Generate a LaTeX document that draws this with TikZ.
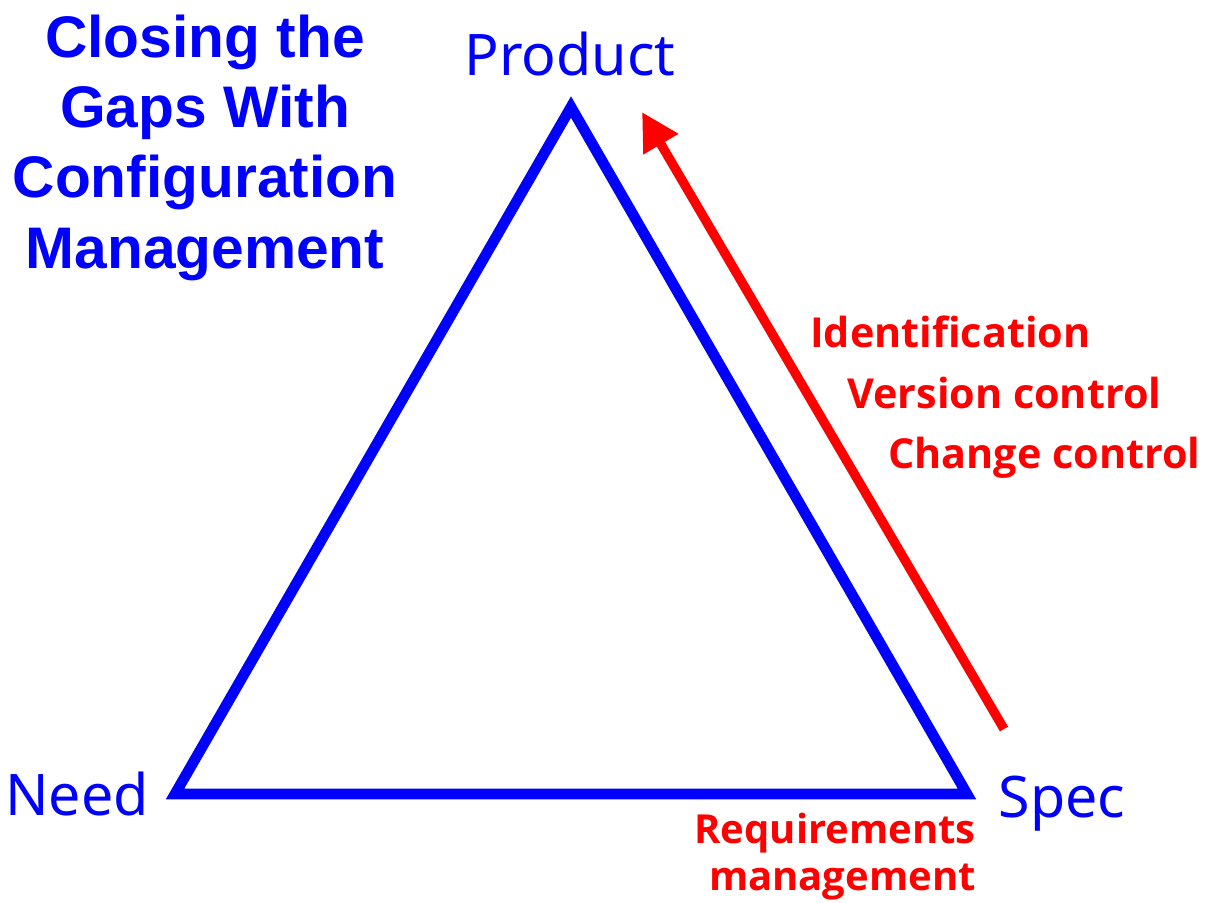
\documentclass[tikz,border=0pt]{standalone}
\usepackage{fontspec}
\setmainfont{Noto Sans}
\newfontfamily\titlefont{Liberation Sans}
\newfontfamily\labelfont{Open Sans}
\usetikzlibrary{arrows.meta}
\definecolor{cmblue}{RGB}{0,0,255}
\definecolor{cmred}{RGB}{255,0,0}
\begin{document}
\begin{tikzpicture}[x=0.75pt,y=-0.75pt,
  titleline/.style={text=cmblue,font=\titlefont\bfseries\fontsize{44}{52}\selectfont,anchor=base,inner sep=0pt},
  vertex/.style={text=cmblue,font=\fontsize{43}{50}\selectfont,anchor=base,inner sep=0pt},
  cmlabel/.style={text=cmred,font=\labelfont\bfseries\fontsize{30}{36}\selectfont,inner sep=0pt},
  cmlabelbig/.style={cmlabel,font=\labelfont\bfseries\fontsize{31}{37}\selectfont},
  side/.style={draw=cmblue,line width=8pt,line join=miter},
  cmarrow/.style={draw=cmred,line width=7pt,-{Triangle[length=28pt,width=28.5pt]}}]
\useasboundingbox (0,0) rectangle (1210,903);
\coordinate (P) at (571,107);
\coordinate (N) at (175,794);
\coordinate (S) at (967,794);
\draw[side] (P) -- (S) -- (N) -- cycle;
\node[vertex] (product) at (570,75) {Product};
\node[vertex] (need) at (77,815) {Need};
\node[vertex] (spec) at (1062,817) {Spec};
\node[titleline] (t1) at (205,57) {Closing the};
\node[titleline] (t2) at (205,127) {Gaps With};
\node[titleline] (t3) at (205,197) {Configuration};
\node[titleline] (t4) at (205,268) {Management};
\coordinate (tail) at (1004,729);
\coordinate (tip) at (642,112);
\draw[cmarrow] (tail) -- (tip);
\node[cmlabelbig,anchor=base west] (ident) at (810,347) {Identification};
\node[cmlabelbig,anchor=base west] (version) at (847,408) {Version control};
\node[cmlabelbig,anchor=base west] (change) at (888,468) {Change control};
\node[cmlabel,anchor=base east] (req) at (976,843) {Requirements};
\node[cmlabel,anchor=base east] (mgmt) at (976,890) {management};
\end{tikzpicture}
\end{document}
